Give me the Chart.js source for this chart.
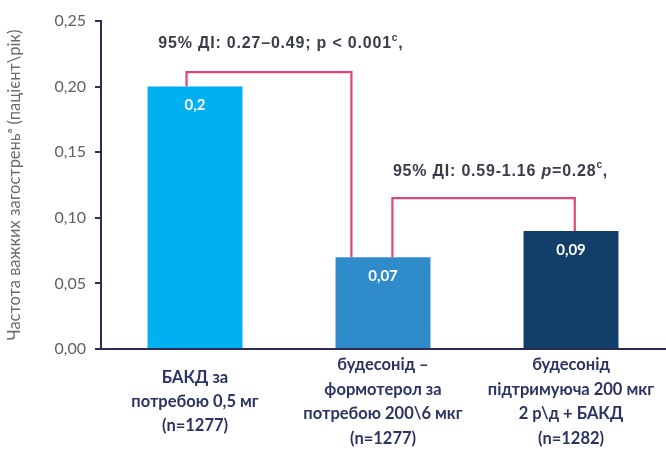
<!DOCTYPE html>
<html>
<head>
<meta charset="utf-8">
<script src="https://cdn.jsdelivr.net/npm/chart.js@4"></script>
<style>
  html, body { margin: 0; padding: 0; background: #ffffff; }
  #wrap { width: 666px; height: 452px; }
</style>
</head>
<body>
<div id="wrap"><canvas id="chart" width="666" height="452"></canvas></div>
<script>
// Treatment groups (multi-line axis labels)
const categories = [
  ['БАКД за', 'потребою 0,5 мг', '(n=1277)'],
  ['будесонід –', 'формотерол за', 'потребою 200\\6 мкг', '(n=1277)'],
  ['будесонід', 'підтримуюча 200 мкг', '2 р\\д + БАКД', '(n=1282)']
];
// Severe exacerbation rate, patient/year
const exacerbationRates = [0.2, 0.07, 0.09];
const barColors = ['#00b0f0', '#2f8bc9', '#123f69'];
const yTickValues = [0, 0.05, 0.1, 0.15, 0.2, 0.25];
const yTitle = 'Частота важких загострень\u1d43 (пацієнт\\рік)';

// Pairwise comparisons drawn as brackets: group indices and the note text
const comparisonPairs = [[0, 1], [1, 2]];
const comparisonNotes = [
  [{ t: '95% ДІ: 0.27–0.49; p < 0.001' }, { t: 'c', sup: true }, { t: ',' }],
  [{ t: '95% ДІ: 0.59-1.16 ' }, { t: 'p', italic: true }, { t: '=0.28' }, { t: 'c', sup: true }, { t: ',' }]
];

const axisColor = '#2c2e52';
const bracketColor = '#e0447f';

// Bracket geometry in category / value units
const bracketLayout = [
  { fromShift: -0.045, toShift: -0.168, level: 0.211, textShift: 0.457, textLevel: 0.2325 },
  { fromShift: 0.05, toShift: 0.02, level: 0.115, textShift: 0.625, textLevel: 0.1355 }
];

function catPixel(xs, idx, shift) {
  const step = xs.getPixelForValue(1) - xs.getPixelForValue(0);
  return xs.getPixelForValue(idx) + shift * step;
}

const bracketPlugin = {
  id: 'comparisonBrackets',
  afterDatasetsDraw(chart) {
    const { ctx, scales: { x, y } } = chart;
    const bars = chart.getDatasetMeta(0).data;
    ctx.save();
    comparisonPairs.forEach(([a, b], i) => {
      const L = bracketLayout[i];
      const xa = catPixel(x, a, L.fromShift);
      const xb = catPixel(x, b, L.toShift);
      const top = y.getPixelForValue(L.level);
      ctx.beginPath();
      ctx.strokeStyle = bracketColor;
      ctx.lineWidth = 2.2;
      ctx.lineJoin = 'miter';
      ctx.moveTo(xa, bars[a].y);
      ctx.lineTo(xa, top);
      ctx.lineTo(xb, top);
      ctx.lineTo(xb, bars[b].y);
      ctx.stroke();

      // note text with italic / superscript runs
      const segs = comparisonNotes[i];
      const base = 'bold 16px "Liberation Sans", Arial, sans-serif';
      const fontFor = s => s.sup ? 'bold 10px "Liberation Sans", Arial, sans-serif'
        : (s.italic ? 'italic bold 16px "Liberation Sans", Arial, sans-serif' : base);
      ctx.letterSpacing = '0.8px';
      let total = 0;
      segs.forEach(s => { ctx.font = fontFor(s); total += ctx.measureText(s.t).width; });
      let cx = catPixel(x, a, L.textShift) - total / 2;
      const cy = y.getPixelForValue(L.textLevel);
      ctx.fillStyle = '#3b3c4a';
      ctx.textBaseline = 'middle';
      ctx.textAlign = 'left';
      segs.forEach(s => {
        ctx.font = fontFor(s);
        ctx.fillText(s.t, cx, s.sup ? cy - 6 : cy);
        cx += ctx.measureText(s.t).width;
      });
      ctx.letterSpacing = '0px';
    });
    ctx.restore();
  }
};

const valueLabelPlugin = {
  id: 'valueLabels',
  afterDatasetsDraw(chart) {
    const { ctx } = chart;
    const bars = chart.getDatasetMeta(0).data;
    ctx.save();
    ctx.fillStyle = '#ffffff';
    ctx.font = 'bold 15px Lato, "Open Sans", sans-serif';
    ctx.textAlign = 'center';
    ctx.textBaseline = 'middle';
    bars.forEach((bar, i) => {
      const label = String(exacerbationRates[i]).replace('.', ',');
      ctx.fillText(label, bar.x, bar.y + 19);
    });
    ctx.restore();
  }
};

new Chart(document.getElementById('chart'), {
  type: 'bar',
  data: {
    labels: categories,
    datasets: [{
      data: exacerbationRates,
      backgroundColor: barColors,
      borderWidth: 0,
      barPercentage: 1,
      categoryPercentage: 0.505
    }]
  },
  options: {
    responsive: false,
    animation: false,
    layout: { padding: { top: 21, right: 1, left: 0, bottom: 0 } },
    plugins: { legend: { display: false }, tooltip: { enabled: false } },
    scales: {
      x: {
        grid: { display: false, drawTicks: false },
        border: { display: true, color: axisColor, width: 2 },
        ticks: {
          color: '#2a3463',
          font: { family: 'Lato, "Open Sans", sans-serif', weight: 'bold', size: 16.5, lineHeight: 1.48 },
          padding: 16,
          crossAlign: 'center',
          maxRotation: 0,
          autoSkip: false
        },
        afterFit(s) {
          s.height = 103;
          s.paddingLeft = 0;
          s.paddingRight = 0;
        }
      },
      y: {
        min: 0,
        max: 0.25,
        afterBuildTicks(s) { s.ticks = yTickValues.map(v => ({ value: v })); },
        grid: { drawOnChartArea: false, drawTicks: true, tickLength: 6, color: axisColor, tickWidth: 2, lineWidth: 2 },
        border: { display: true, color: axisColor, width: 2 },
        ticks: {
          color: '#5f5f66',
          font: { family: 'Lato, "Open Sans", sans-serif', size: 16 },
          padding: 9,
          callback: v => v.toFixed(2).replace('.', ',')
        },
        title: {
          display: true,
          text: yTitle,
          color: '#6a6a70',
          font: { family: 'Lato, "Open Sans", sans-serif', size: 16.5 },
          padding: { top: 5, bottom: 0 }
        },
        afterFit(s) {
          s.width = 101;
          s.paddingTop = 0;
          s.paddingBottom = 0;
        }
      }
    }
  },
  plugins: [bracketPlugin, valueLabelPlugin]
});
</script>
</body>
</html>
